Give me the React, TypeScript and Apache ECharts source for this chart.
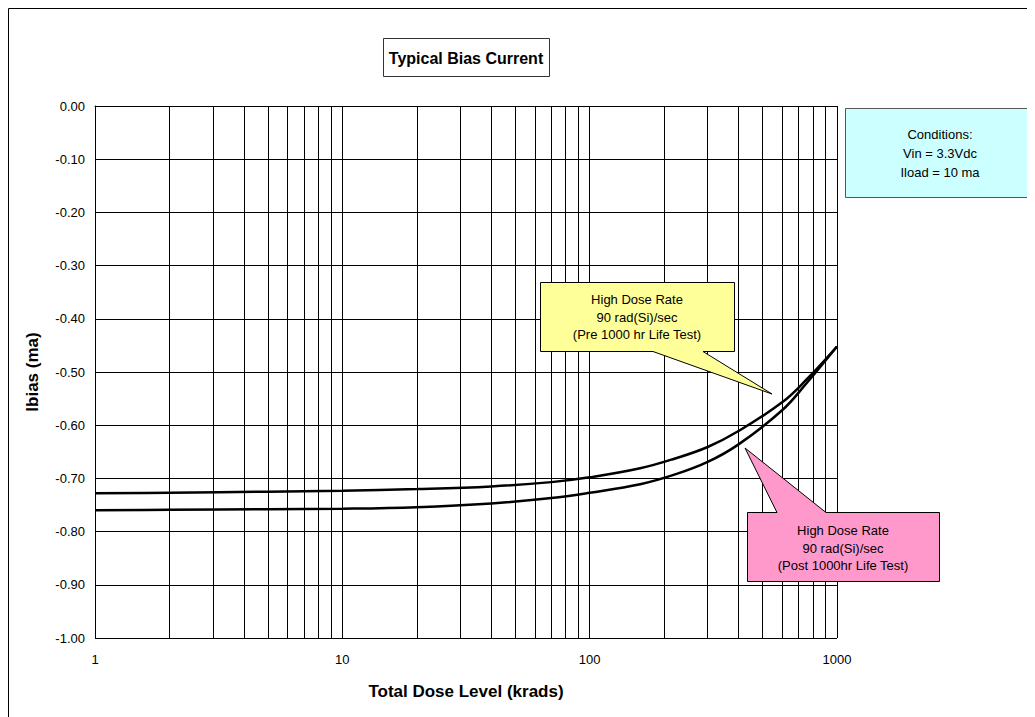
import React, { useEffect, useRef } from "react";
import * as echarts from "echarts";

// ---- data ----
const preLifeTest: [number, number][] = [
  [1, -0.728], [2, -0.727], [5, -0.725], [10, -0.723], [20, -0.72], [40, -0.715],
  [70, -0.707], [100, -0.698], [160, -0.681], [220, -0.663], [300, -0.641],
  [400, -0.611], [600, -0.557], [750, -0.515], [1000, -0.452],
];
const postLifeTest: [number, number][] = [
  [1, -0.76], [2, -0.759], [5, -0.758], [10, -0.757], [20, -0.754], [40, -0.747],
  [70, -0.737], [100, -0.727], [160, -0.711], [220, -0.693], [300, -0.669],
  [400, -0.636], [600, -0.572], [750, -0.522], [1000, -0.452],
];
const minorX = [2, 3, 4, 5, 6, 7, 8, 9, 20, 30, 40, 50, 60, 70, 80, 90, 200, 300, 400, 500, 600, 700, 800, 900];
const xMin = 1;
const xMax = 1000;
const yMin = -1;
const yMax = 0;
const yStep = 0.1;

const titleText = "Typical Bias Current";
const xName = "Total Dose Level (krads)";
const yName = "Ibias (ma)";
const preLabel = "High Dose Rate\n90 rad(Si)/sec\n(Pre 1000 hr Life Test)";
const postLabel = "High Dose Rate\n90 rad(Si)/sec\n(Post 1000hr Life Test)";
const conditionsLabel = "Conditions:\nVin = 3.3Vdc\nIload = 10 ma";

const FONT = 'Arial, "Liberation Sans", sans-serif';

export default function App() {
  const ref = useRef<HTMLDivElement>(null);
  useEffect(() => {
    if (!ref.current) return;
    const chart = echarts.init(ref.current, undefined, { renderer: "svg" });
    const option: any = {
      animation: false,
      backgroundColor: "#ffffff",
      textStyle: { fontFamily: FONT },
      grid: { left: 87, top: 98, right: 198, bottom: 79, containLabel: false },
      xAxis: {
        type: "log",
        logBase: 10,
        min: xMin,
        max: xMax,
        name: xName,
        nameLocation: "middle",
        nameGap: 45,
        nameTextStyle: { fontFamily: FONT, fontWeight: "bold", fontSize: 17, color: "#000" },
        axisLine: { show: true, lineStyle: { color: "#000", width: 1 } },
        axisTick: { show: false },
        axisLabel: {
          margin: 15,
          fontFamily: FONT,
          fontSize: 13,
          color: "#000",
          formatter: (v: number) => String(Math.round(v)),
        },
        splitLine: { show: true, lineStyle: { color: "#000", width: 1 } },
      },
      yAxis: {
        type: "value",
        min: yMin,
        max: yMax,
        interval: yStep,
        name: yName,
        nameLocation: "middle",
        nameGap: 54,
        nameTextStyle: { fontFamily: FONT, fontWeight: "bold", fontSize: 17, color: "#000" },
        axisLine: { show: true, lineStyle: { color: "#000", width: 1 } },
        axisTick: { show: false },
        axisLabel: {
          margin: 10,
          fontFamily: FONT,
          fontSize: 13,
          color: "#000",
          formatter: (v: number) => v.toFixed(2),
        },
        splitLine: { show: true, lineStyle: { color: "#000", width: 1 } },
      },
      series: [
        {
          type: "line",
          name: "minor",
          z: 1,
          data: [[xMin, yMin]],
          showSymbol: false,
          symbol: "none",
          lineStyle: { width: 0 },
          silent: true,
          markLine: {
            silent: true,
            symbol: ["none", "none"],
            label: { show: false },
            lineStyle: { color: "#000", width: 1, type: "solid" },
            data: minorX.map((x) => ({ xAxis: x })),
          },
        },
        {
          type: "line",
          name: "Pre 1000 hr Life Test",
          z: 3,
          data: preLifeTest,
          smooth: 0.4,
          showSymbol: false,
          symbol: "none",
          lineStyle: { color: "#000", width: 2.5 },
        },
        {
          type: "line",
          name: "Post 1000hr Life Test",
          z: 3,
          data: postLifeTest,
          smooth: 0.4,
          showSymbol: false,
          symbol: "none",
          lineStyle: { color: "#000", width: 2.5 },
        },
      ],
      graphic: [
        {
          type: "rect",
          z: 0,
          shape: { x: 0.5, y: 0.5, width: 1100, height: 800 },
          style: { fill: "none", stroke: "#000", lineWidth: 1 },
          silent: true,
        },
        {
          type: "rect",
          z: 10,
          shape: { x: 375.5, y: 30.5, width: 166, height: 38 },
          style: { fill: "#fff", stroke: "#333", lineWidth: 1 },
        },
        {
          type: "text",
          z: 11,
          x: 458,
          y: 50,
          style: {
            text: titleText,
            font: `bold 16px ${FONT}`,
            fill: "#000",
            textAlign: "center",
            textVerticalAlign: "middle",
          },
        },
        {
          type: "polygon",
          z: 10,
          shape: {
            points: [
              [532.5, 274.5], [726.5, 274.5], [726.5, 343.5], [695, 343.5],
              [764, 386], [645, 343.5], [532.5, 343.5],
            ],
          },
          style: { fill: "#FFFF99", stroke: "#000", lineWidth: 1 },
        },
        {
          type: "text",
          z: 11,
          x: 629,
          y: 309,
          style: {
            text: preLabel,
            font: `13px ${FONT}`,
            lineHeight: 17.5,
            fill: "#000",
            textAlign: "center",
            textVerticalAlign: "middle",
          },
        },
        {
          type: "polygon",
          z: 10,
          shape: {
            points: [
              [739.5, 504.5], [769, 504.5], [737, 440], [818, 504.5],
              [931.5, 504.5], [931.5, 573.5], [739.5, 573.5],
            ],
          },
          style: { fill: "#FF99CC", stroke: "#000", lineWidth: 1 },
        },
        {
          type: "text",
          z: 11,
          x: 835,
          y: 540,
          style: {
            text: postLabel,
            font: `13px ${FONT}`,
            lineHeight: 17.5,
            fill: "#000",
            textAlign: "center",
            textVerticalAlign: "middle",
          },
        },
        {
          type: "rect",
          z: 10,
          shape: { x: 837.5, y: 100.5, width: 189, height: 89 },
          style: { fill: "#CCFFFF", stroke: "#555", lineWidth: 1 },
        },
        {
          type: "text",
          z: 11,
          x: 932,
          y: 145,
          style: {
            text: conditionsLabel,
            font: `13px ${FONT}`,
            lineHeight: 19,
            fill: "#000",
            textAlign: "center",
            textVerticalAlign: "middle",
          },
        },
      ],
    };
    chart.setOption(option);
    return () => chart.dispose();
  }, []);
  return <div ref={ref} style={{ width: 1027, height: 709 }} />;
}
